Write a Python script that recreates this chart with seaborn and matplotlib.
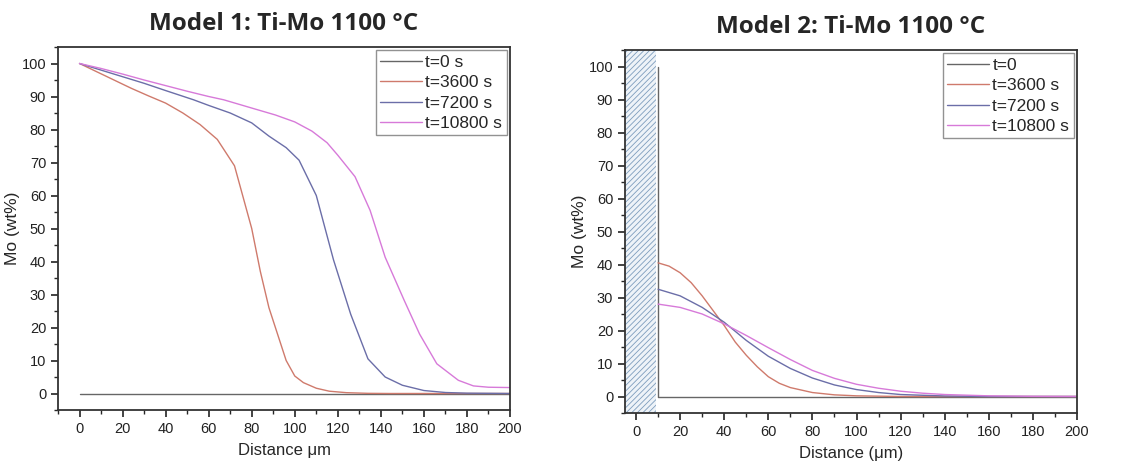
import numpy as np
import pandas as pd
import matplotlib.pyplot as plt
import seaborn as sns
from matplotlib.ticker import MultipleLocator

# Model 1 profiles
m1_t0_x = [0, 200]
m1_t0_y = [0, 0]
m1_3600_x = [0, 8, 16, 24, 32, 40, 48, 56, 64, 72, 80, 84, 88, 92, 96, 100, 104, 110, 116, 124, 134, 144, 200]
m1_3600_y = [100, 97.5, 95, 92.5, 90.2, 88, 85, 81.5, 77, 69, 50, 37, 26, 18, 10, 5.3, 3.3, 1.6, 0.7, 0.25, 0.05, 0, 0]
m1_7200_x = [0, 10, 20, 30, 40, 53, 60, 70, 80, 88, 96, 102, 110, 118, 126, 134, 142, 150, 160, 170, 180, 200]
m1_7200_y = [100, 98, 96, 94, 91.8, 89, 87.3, 85, 82, 78, 74.5, 70.7, 60, 40.5, 24, 10.5, 5, 2.5, 0.9, 0.3, 0.1, 0]
m1_10800_x = [0, 10, 20, 30, 40, 50, 60, 67, 80, 91, 100, 108, 115, 120, 128, 135, 142, 151, 158, 166, 176, 183, 190, 200]
m1_10800_y = [100, 98.5, 96.8, 95, 93.3, 91.6, 90, 89, 86.5, 84.4, 82.3, 79.5, 76, 72.2, 65.7, 55.5, 41.3, 28, 18, 9, 4, 2.3, 1.9, 1.8]

# Model 2 profiles
m2_t0_x = [10, 10, 200]
m2_t0_y = [100, 0, 0]
m2_3600_x = [10, 15, 20, 25, 30, 35, 40, 45, 50, 55, 60, 65, 70, 80, 90, 100, 120, 200]
m2_3600_y = [40.5, 39.5, 37.5, 34.5, 30.5, 26, 21.5, 16.5, 12.5, 9, 6, 4, 2.7, 1.2, 0.5, 0.2, 0, 0]
m2_7200_x = [10, 20, 30, 40, 50, 60, 70, 80, 90, 100, 110, 120, 140, 160, 200]
m2_7200_y = [32.5, 30.5, 27, 22.5, 17, 12.2, 8.5, 5.6, 3.5, 2.1, 1.2, 0.6, 0.15, 0, 0]
m2_10800_x = [10, 20, 30, 40, 50, 60, 70, 80, 90, 100, 110, 120, 130, 140, 160, 180, 200]
m2_10800_y = [28, 27, 25, 22, 18.5, 14.8, 11.2, 7.9, 5.5, 3.7, 2.5, 1.6, 1.0, 0.6, 0.2, 0.05, 0]

m1_labels = ["t=0 s", "t=3600 s", "t=7200 s", "t=10800 s"]
m2_labels = ["t=0", "t=3600 s", "t=7200 s", "t=10800 s"]
colors = ["#666666", "#cf7a6c", "#6b6ea8", "#d77ad9"]


def make_df(xs, ys, labels):
    frames = []
    for x, y, lab in zip(xs, ys, labels):
        frames.append(pd.DataFrame({"x": x, "y": y, "t": lab}))
    return pd.concat(frames, ignore_index=True)


df1 = make_df([m1_t0_x, m1_3600_x, m1_7200_x, m1_10800_x],
              [m1_t0_y, m1_3600_y, m1_7200_y, m1_10800_y], m1_labels)
df2 = make_df([m2_t0_x, m2_3600_x, m2_7200_x, m2_10800_x],
              [m2_t0_y, m2_3600_y, m2_7200_y, m2_10800_y], m2_labels)

sns.set_style("ticks")
plt.rcParams["font.family"] = ["Liberation Sans", "DejaVu Sans"]
plt.rcParams["hatch.linewidth"] = 0.6

fig = plt.figure(figsize=(11.41, 4.70), dpi=100)
ax1 = fig.add_axes([58 / 1141, 1 - 410 / 470, 452 / 1141, 363 / 470])
ax2 = fig.add_axes([625 / 1141, 1 - 413 / 470, 452 / 1141, 363 / 470])

# hatched substrate region on model 2
ax2.axvspan(-5, 9, facecolor="#eef3f8", edgecolor="#7d9dbd", hatch="//////", lw=0, zorder=0)

for ax, df, labels, xmin, title, xlabel in [
    (ax1, df1, m1_labels, -10, "Model 1: Ti-Mo 1100 °C", "Distance μm"),
    (ax2, df2, m2_labels, -5, "Model 2: Ti-Mo 1100 °C", "Distance (μm)"),
]:
    sns.lineplot(data=df, x="x", y="y", hue="t", hue_order=labels,
                 palette=colors, estimator=None, sort=False, lw=1.0, ax=ax)
    ax.set_xlim(xmin, 200)
    ax.set_ylim(-5, 105)
    ax.xaxis.set_major_locator(MultipleLocator(20))
    ax.xaxis.set_minor_locator(MultipleLocator(10))
    ax.yaxis.set_major_locator(MultipleLocator(10))
    ax.yaxis.set_minor_locator(MultipleLocator(5))
    ax.tick_params(which="major", direction="out", length=5, width=1.2, labelsize=10.5, colors="#222222")
    ax.tick_params(which="minor", direction="out", length=3, width=1.0)
    for s in ax.spines.values():
        s.set_linewidth(1.3)
        s.set_color("#333333")
    ax.set_xlabel(xlabel, fontsize=12, labelpad=5)
    ax.set_ylabel("Mo (wt%)", fontsize=12.5, labelpad=1)
    ax.set_title(title, fontsize=17.5, fontweight="bold", family=["Open Sans", "DejaVu Sans"], pad=12)
    handles, labs = ax.get_legend_handles_labels()
    leg = ax.legend(handles, labs, loc="upper right", fontsize=12.5, frameon=True, fancybox=False,
                    edgecolor="#777777", handlelength=2.4, handletextpad=0.2, labelspacing=0.3,
                    borderpad=0.25, borderaxespad=0.2)
    leg.get_frame().set_linewidth(1.0)

fig.savefig("out.png", dpi=100)
